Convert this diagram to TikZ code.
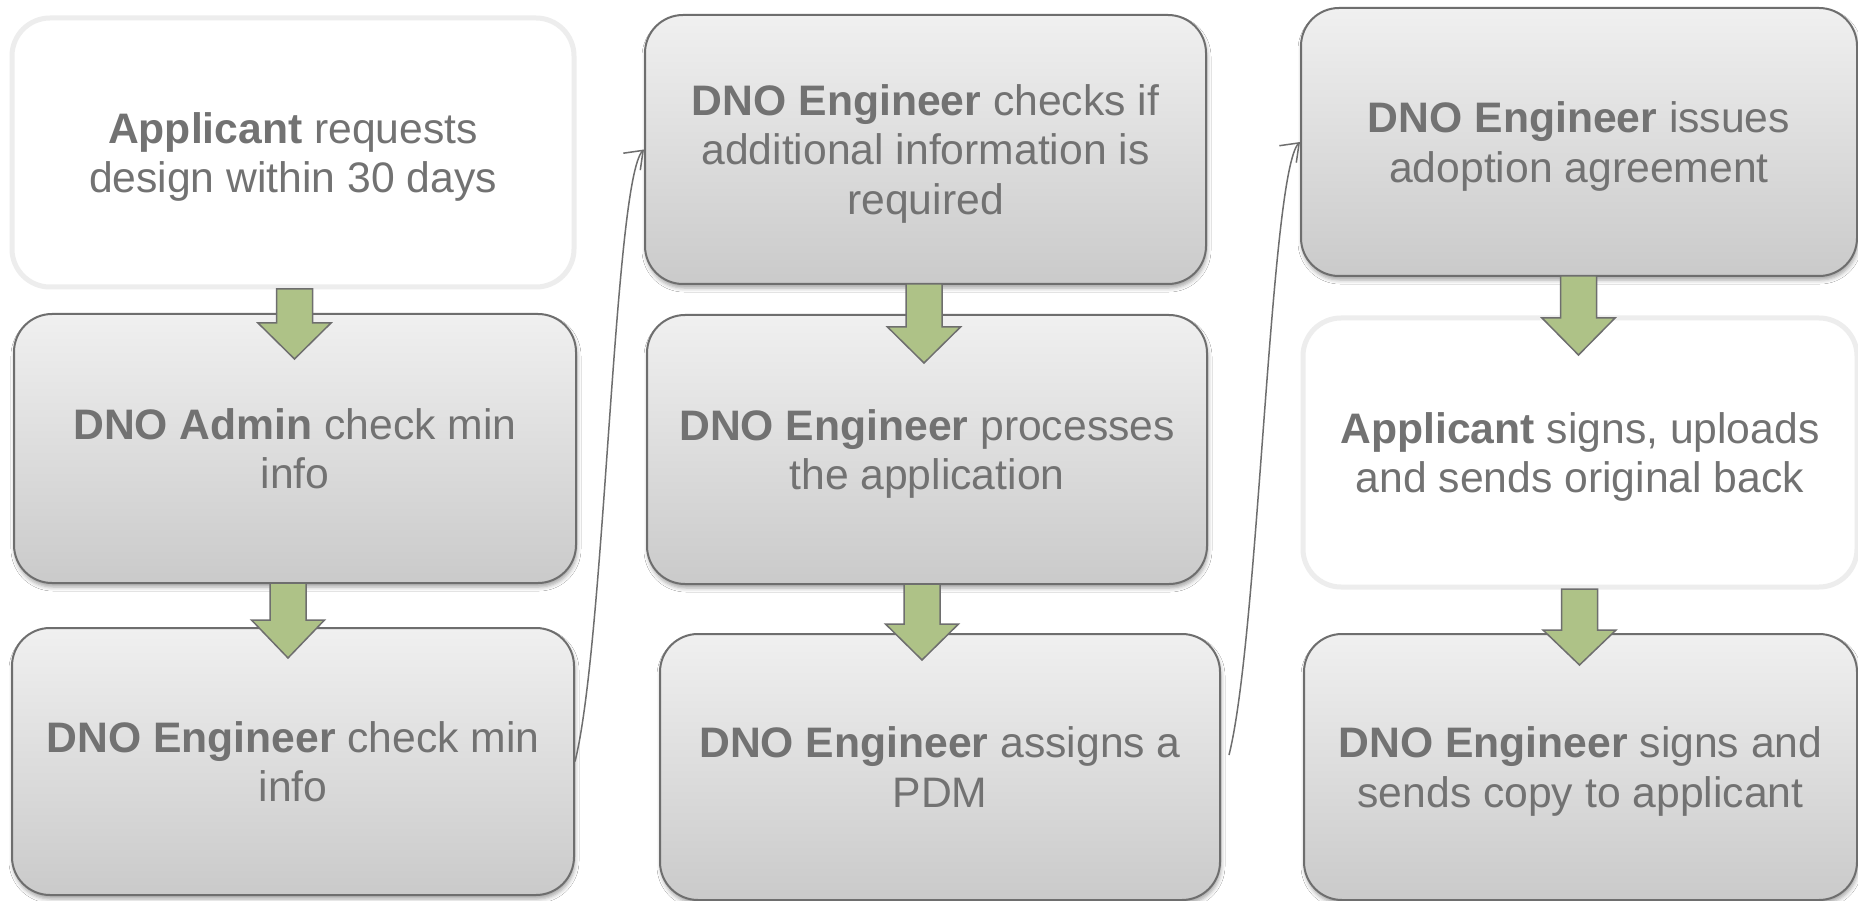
\documentclass[tikz,border=0pt]{standalone}
\usepackage{fontspec}
\setmainfont{Liberation Sans}
\usetikzlibrary{arrows.meta,shadows.blur}
\definecolor{txt}{HTML}{727272}
\definecolor{bord}{HTML}{6E6E6E}
\definecolor{wbord}{HTML}{EDEDED}
\definecolor{gtop}{HTML}{F0F0F0}
\definecolor{gbot}{HTML}{CACACA}
\definecolor{grn}{HTML}{AEC287}
\newcommand\garrow[4]{%
  \draw[blockarrow] (#1-18,#2) -- (#1-18,#3) -- (#1-36.5,#3) -- (#1,#4)
    -- (#1+36.5,#3) -- (#1+18,#3) -- (#1+18,#2) -- cycle;}
\tikzset{
  box/.style={rounded corners=38pt, inner sep=0pt, align=center, text=txt,
    text depth=0pt, font=\fontsize{42.67}{49.5}\selectfont},
  graybox/.style={box, draw=bord, line width=2pt, top color=gtop, bottom color=gbot,
    blur shadow={shadow xshift=1pt, shadow yshift=-4pt, shadow blur radius=4pt, shadow opacity=35}},
  whitebox/.style={box, draw=wbord, line width=5pt, fill=white},
  blockarrow/.style={fill=grn, draw=bord, line width=1.5pt, line join=miter},
  conn/.style={draw=bord, line width=1.5pt, -{Straight Barb[length=16pt,width=24pt]}},
}
\begin{document}
\begin{tikzpicture}[x=1pt,y=-1pt]
\useasboundingbox (0,0) rectangle (1858,901);
\fill[white] (0,0) rectangle (1858,901);

% column 1
\node[whitebox, minimum width=562pt, minimum height=269pt] (b1) at (293,152.5)
  {\textbf{Applicant} requests\\design within 30 days};
\node[graybox, minimum width=562pt, minimum height=269pt] (b2) at (295,448.5)
  {\textbf{DNO Admin} check min\\info};
\node[graybox, minimum width=562pt, minimum height=267pt] (b3) at (293,761.5)
  {\textbf{DNO Engineer} check min\\info};

% column 2
\node[graybox, minimum width=561pt, minimum height=269pt] (b4) at (925.5,149.5)
  {\textbf{DNO Engineer} checks if\\additional information is\\required};
\node[graybox, minimum width=560pt, minimum height=269pt] (b5) at (927,449.5)
  {\textbf{DNO Engineer} processes\\the application};
\node[graybox, minimum width=560pt, minimum height=266pt] (b6) at (940,767)
  {\textbf{DNO Engineer} assigns a\\PDM};

% column 3
\node[graybox, minimum width=556pt, minimum height=268pt] (b7) at (1579,142)
  {\textbf{DNO Engineer} issues\\adoption agreement};
\node[whitebox, minimum width=554pt, minimum height=269pt] (b8) at (1580,452.5)
  {\textbf{Applicant} signs, uploads\\and sends original back};
\node[graybox, minimum width=553pt, minimum height=266pt] (b9) at (1580.5,767)
  {\textbf{DNO Engineer} signs and\\sends copy to applicant};

% block arrows
\garrow{294.5}{289}{323}{359}
\garrow{288}{583}{620}{658}
\garrow{924}{284}{327}{363}
\garrow{922}{584}{624}{660}
\garrow{1578.5}{276}{318}{355}
\garrow{1579.5}{589}{630}{665}

% connectors
\draw[conn] (b3.east) .. controls +(30,-120) and +(-30,30) .. (b4.west);
\draw[conn] ([shift={(8,-12)}]b6.east) .. controls +(30,-120) and +(-30,30) .. (b7.west);
\end{tikzpicture}
\end{document}
